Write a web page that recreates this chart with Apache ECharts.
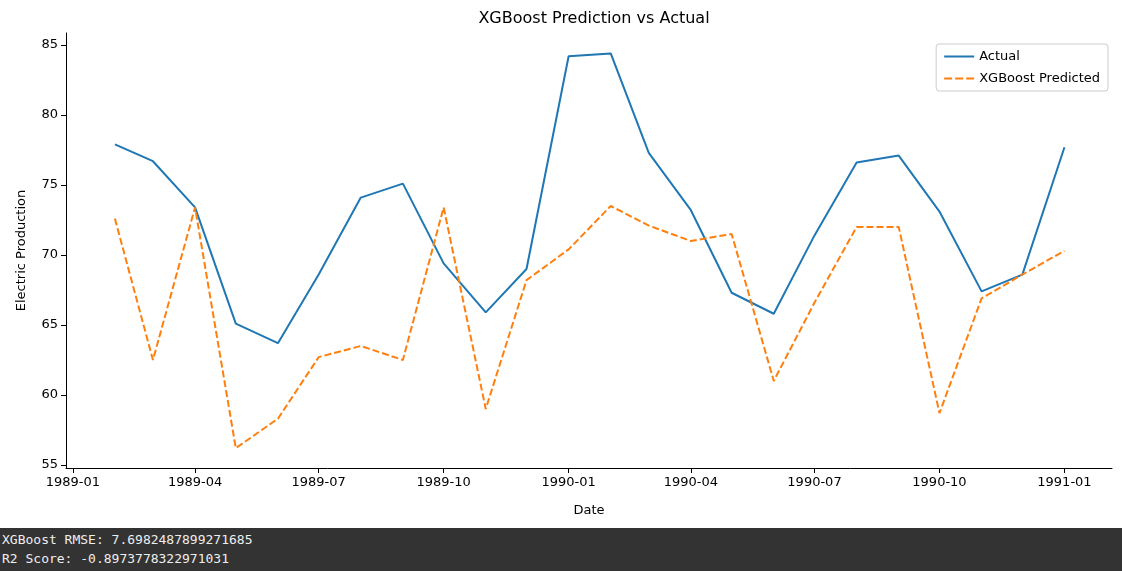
<!DOCTYPE html>
<html><head><meta charset="utf-8">
<script src="https://cdn.jsdelivr.net/npm/echarts@6/dist/echarts.min.js"></script>
<style>
body{margin:0;background:#fff;width:1122px;height:571px;overflow:hidden;font-family:"DejaVu Sans",sans-serif}
#chart{width:1122px;height:528px}
#out{position:absolute;left:0;top:528px;width:1122px;height:43px;background:#333;color:#eee;font:13px "DejaVu Sans Mono",monospace;line-height:19px;padding-top:2px;padding-left:2px;box-sizing:border-box}
</style></head><body>
<div id="chart"></div>
<div id="out">XGBoost RMSE: 7.6982487899271685<br>R2 Score: -0.8973778322971031</div>
<script>
var dates = ['1989-02-01','1989-03-01','1989-04-01','1989-05-01','1989-06-01','1989-07-01','1989-08-01','1989-09-01','1989-10-01','1989-11-01','1989-12-01','1990-01-01','1990-02-01','1990-03-01','1990-04-01','1990-05-01','1990-06-01','1990-07-01','1990-08-01','1990-09-01','1990-10-01','1990-11-01','1990-12-01','1991-01-01'];
var actual = [77.9,76.7,73.4,65.1,63.7,68.6,74.1,75.1,69.4,65.9,69.0,84.2,84.4,77.3,73.2,67.3,65.8,71.4,76.6,77.1,73.1,67.4,68.6,77.7];
var predicted = [72.6,62.5,73.4,56.2,58.3,62.7,63.5,62.5,73.4,59.0,68.2,70.4,73.5,72.1,71.0,71.5,61.0,66.6,72.0,72.0,58.7,66.9,68.6,70.3];
var tickDates = ['1989-01-01','1989-04-01','1989-07-01','1989-10-01','1990-01-01','1990-04-01','1990-07-01','1990-10-01','1991-01-01'];

function ts(d){ return Date.parse(d+'T00:00:00Z'); }
function pair(v){ return v.map(function(y,i){ return [ts(dates[i]), y]; }); }
var ticks = tickDates.map(ts);
var txt = {color:'#000', fontFamily:'DejaVu Sans', fontSize:13};

var chart = echarts.init(document.getElementById('chart'));
chart.setOption({
  animation:false,
  title:{text:'XGBoost Prediction vs Actual', left:589, top:6, textAlign:'center', textStyle:{fontFamily:'DejaVu Sans', fontSize:16, fontWeight:'normal', color:'#000'}},
  grid:{left:66, right:10, top:33, bottom:60},
  legend:{right:14, top:44, orient:'vertical', itemWidth:30, itemHeight:2, itemGap:9, padding:[6,8], borderColor:'#ccc', borderWidth:1, borderRadius:3, textStyle:txt,
    data:[{name:'Actual', icon:'rect'},{name:'XGBoost Predicted', icon:'path://M0,0h8v2h-8zM11,0h8v2h-8zM22,0h8v2h-8z'}]},
  xAxis:{type:'value', min:ts('1988-12-27'), max:ts('1991-02-05'),
    name:'Date', nameLocation:'middle', nameGap:36, nameTextStyle:txt,
    axisLine:{lineStyle:{color:'#000'}}, splitLine:{show:false},
    axisTick:{show:true, customValues:ticks, length:5, lineStyle:{color:'#000'}},
    axisLabel:Object.assign({customValues:ticks, formatter:function(v){var d=new Date(v);return d.getUTCFullYear()+'-'+String(d.getUTCMonth()+1).padStart(2,'0');}}, txt)},
  yAxis:{type:'value', min:54.78, max:85.86,
    name:'Electric Production', nameLocation:'middle', nameGap:38, nameTextStyle:txt,
    axisLine:{show:true, lineStyle:{color:'#000'}}, splitLine:{show:false},
    axisTick:{show:true, length:5, customValues:[55,60,65,70,75,80,85], lineStyle:{color:'#000'}},
    axisLabel:Object.assign({customValues:[55,60,65,70,75,80,85]}, txt)},
  series:[
    {name:'Actual', type:'line', data:pair(actual), symbol:'none', color:'#1f77b4', lineStyle:{width:2}},
    {name:'XGBoost Predicted', type:'line', data:pair(predicted), symbol:'none', color:'#ff7f0e', lineStyle:{width:2, type:[7,3]}}
  ]
});
</script>
</body></html>
